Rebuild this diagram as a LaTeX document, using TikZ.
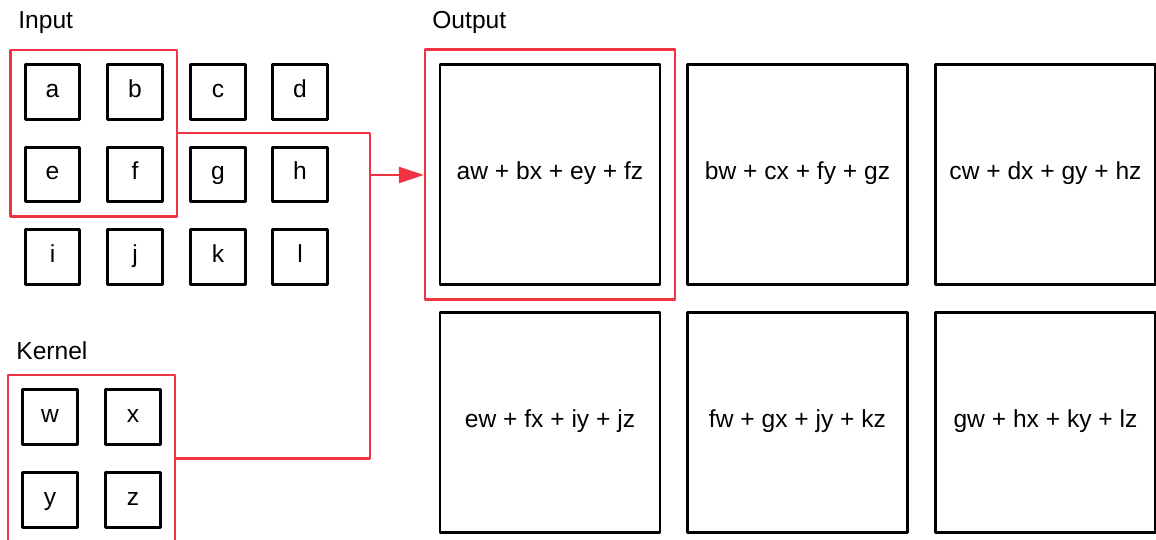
\documentclass[tikz,border=0pt]{standalone}
\usepackage{fontspec}
\setmainfont{Liberation Sans}
\usetikzlibrary{fit,arrows.meta}
\definecolor{redline}{RGB}{240,52,68}
\tikzset{
	cell/.style={draw,line width=1.6pt,minimum size=1.09cm,inner sep=0pt,text height=0.8em,text depth=0.2em},
	bigcell/.style={draw,line width=1.6pt,minimum size=4.4cm,inner sep=0pt,text height=0.8em,text depth=0.2em},
	redbox/.style={draw=redline,line width=1.4pt,inner sep=0.27cm},
	title/.style={anchor=base west,inner sep=0pt}
}
\begin{document}
\begin{tikzpicture}[x=0.02cm,y=-0.02cm,line join=round,font=\fontsize{14}{16}\selectfont]
	\useasboundingbox (0,0) rectangle (1156,540);
	% === Input ===
	\node[title] (tin) at (18,29) {Input};
	\node[cell] (in-a) at (52.5,92) {a};
	\node[cell] (in-b) at (135,92) {b};
	\node[cell] (in-c) at (218,92) {c};
	\node[cell] (in-d) at (300,92) {d};
	\node[cell] (in-e) at (52.5,174.5) {e};
	\node[cell] (in-f) at (135,174.5) {f};
	\node[cell] (in-g) at (218,174.5) {g};
	\node[cell] (in-h) at (300,174.5) {h};
	\node[cell] (in-i) at (52.5,257) {i};
	\node[cell] (in-j) at (135,257) {j};
	\node[cell] (in-k) at (218,257) {k};
	\node[cell] (in-l) at (300,257) {l};
	\node[redbox,fit=(in-a)(in-f)] (inbox) {};
	% === Kernel ===
	\node[title] (tker) at (16,359) {Kernel};
	\node[cell] (ker-w) at (50,417) {w};
	\node[cell] (ker-x) at (133,417) {x};
	\node[cell] (ker-y) at (50,500) {y};
	\node[cell] (ker-z) at (133,500) {z};
	\node[redbox,fit=(ker-w)(ker-z)] (kerbox) {};
	% === Output ===
	\node[title] (tout) at (432,29) {Output};
	\node[bigcell] (out-1) at (550,174.5) {aw + bx + ey + fz};
	\node[bigcell] (out-2) at (797.5,174.5) {bw + cx + fy + gz};
	\node[bigcell] (out-3) at (1045.5,174.5) {cw + dx + gy + hz};
	\node[bigcell] (out-4) at (550,422.5) {ew + fx + iy + jz};
	\node[bigcell] (out-5) at (797.5,422.5) {fw + gx + jy + kz};
	\node[bigcell] (out-6) at (1045.5,422.5) {gw + hx + ky + lz};
	\node[redbox,fit=(out-1)] (outbox) {};
	% === Connectors ===
	\coordinate (join) at (370,175);
	\draw[redline,line width=1.4pt] (inbox.east) -| (join) |- (kerbox.east);
	\draw[redline,line width=1.4pt,-{Triangle[length=0.5cm,width=0.32cm]}] (join) -- (join -| outbox.west);
\end{tikzpicture}
\end{document}
